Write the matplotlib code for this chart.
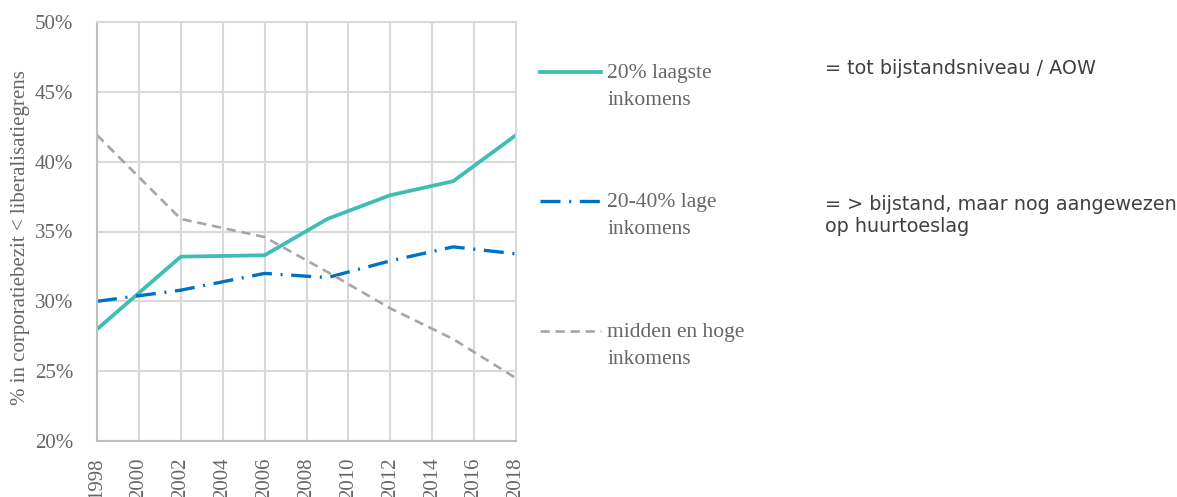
import numpy as np
import matplotlib.pyplot as plt
from matplotlib.lines import Line2D

years = [1998, 2002, 2006, 2009, 2012, 2015, 2018]
laagste = [28.0, 33.2, 33.3, 35.9, 37.6, 38.6, 41.9]
lage = [30.0, 30.8, 32.0, 31.7, 32.9, 33.9, 33.4]
midden = [41.9, 35.9, 34.6, 32.1, 29.5, 27.3, 24.5]

xticks = list(range(1998, 2019, 2))
yticks = [20, 25, 30, 35, 40, 45, 50]

series_labels = [["20% laagste", "inkomens"], ["20-40% lage", "inkomens"],
                 ["midden en hoge", "inkomens"]]
notes = [["= tot bijstandsniveau / AOW"],
         ["= > bijstand, maar nog aangewezen", "op huurtoeslag"]]

teal = "#3DBDB3"
blue = "#0070C0"
grey = "#A6A6A6"
txt = "#666666"
serif = ["Liberation Serif", "DejaVu Serif"]

W, H = 1177, 497
fig = plt.figure(figsize=(W / 100, H / 100), dpi=100)
ax = fig.add_axes([97 / W, 56 / H, 419 / W, 419 / H])

styles = [
    dict(color=teal, lw=2.7, ls="-"),
    dict(color=blue, lw=2.4, dashes=(6, 2.6, 0.6, 2.6)),
    dict(color=grey, lw=1.9, dashes=(3.5, 2.2)),
]
for vals, st in zip([laagste, lage, midden], styles):
    ax.plot(years, vals, solid_joinstyle="round", **st)

ax.set_xlim(1998, 2018)
ax.set_ylim(20, 50)
ax.set_xticks(xticks)
ax.set_yticks(yticks)
ax.set_yticklabels([f"{v}%" for v in yticks], family=serif, fontsize=15, color=txt)
ax.set_xticklabels([str(v) for v in xticks], family=serif, fontsize=15, color=txt, rotation=90)
ax.tick_params(axis="y", length=0, pad=17)
ax.tick_params(axis="x", length=0, pad=12)
ax.grid(True, color="#D9D9D9", lw=1.5)
ax.set_axisbelow(True)
for side in ["top", "right"]:
    ax.spines[side].set_color("#D9D9D9")
    ax.spines[side].set_linewidth(1.5)
for side in ["left", "bottom"]:
    ax.spines[side].set_color("#BFBFBF")
    ax.spines[side].set_linewidth(1.5)
ax.set_ylabel("% in corporatiebezit < liberalisatiegrens", family=serif, fontsize=15,
              color=txt)
ax.yaxis.set_label_coords(-67 / 419, 0.485)

# legend drawn by hand: handle aligned with the first text line
legend_y = [72, 201, 331]
for lines, st, y in zip(series_labels, styles, legend_y):
    fig.add_artist(Line2D([540 / W, 601 / W], [1 - y / H, 1 - y / H],
                          transform=fig.transFigure, **st))
    for i, line in enumerate(lines):
        fig.text(607 / W, 1 - (y + 6 + 27 * i) / H, line, family=serif, fontsize=15.5,
                 color=txt, va="baseline", ha="left")

for lines, y in zip(notes, [74, 210]):
    for i, line in enumerate(lines):
        fig.text(825 / W, 1 - (y + 22 * i) / H, line, family="DejaVu Sans", fontsize=13.8,
                 color="#404040", va="baseline", ha="left")

fig.savefig("out.png", dpi=100)
